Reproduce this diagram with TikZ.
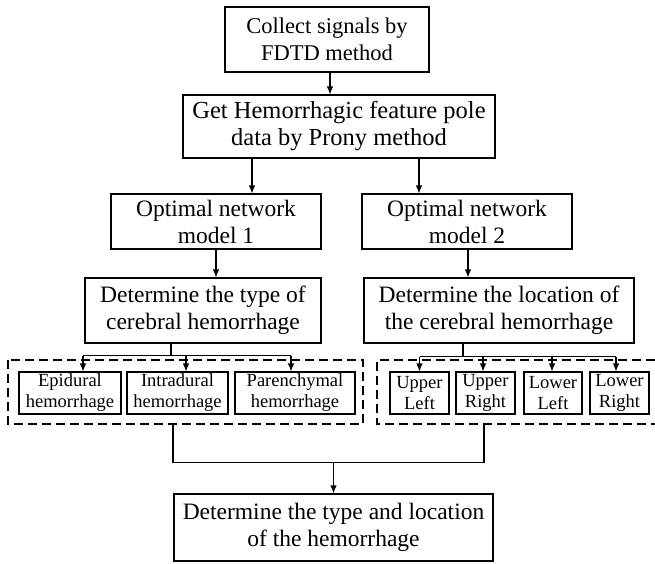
\documentclass[tikz,border=0pt]{standalone}
\usepackage{fontspec}
\setmainfont{Liberation Serif}
\usetikzlibrary{arrows.meta}
\begin{document}
\begin{tikzpicture}[x=1pt,y=-1pt,
  line width=1.1pt,
  bigbox/.style={draw, rectangle, inner sep=0pt, align=center,
    font=\fontsize{23.5}{27}\selectfont},
  smallbox/.style={draw, rectangle, inner sep=0pt, align=center,
    font=\fontsize{18.5}{21}\selectfont, minimum height=42pt},
  groupbox/.style={rectangle, inner sep=0pt, outer sep=0pt},
  groupline/.style={line width=1.2pt, dash pattern=on 9pt off 5pt},
  arr/.style={-{Latex[length=8pt,width=6.5pt]}},
]
\useasboundingbox (0,0) rectangle (655,563);

% main chain
\node[bigbox, minimum width=204pt, minimum height=65pt,
  font=\fontsize{22.5}{27}\selectfont] (collect) at (327,39.5)
  {Collect signals by\\FDTD method};
\node[bigbox, minimum width=312pt, minimum height=63pt,
  font=\fontsize{24.5}{27}\selectfont] (prony) at (339,126.5)
  {Get Hemorrhagic feature pole\\data by Prony method};
\node[bigbox, minimum width=210pt, minimum height=55pt] (model1) at (216,221.5)
  {Optimal network\\model 1};
\node[bigbox, minimum width=210pt, minimum height=55pt] (model2) at (467,221.5)
  {Optimal network\\model 2};
\node[bigbox, minimum width=236pt, minimum height=65pt] (type) at (203,310.5)
  {Determine the type of\\cerebral hemorrhage};
\node[bigbox, minimum width=270pt, minimum height=65pt] (loc) at (499,310.5)
  {Determine the location of\\the cerebral hemorrhage};

% hemorrhage types
\node[groupbox, minimum width=355pt, minimum height=64pt] (grpL) at (185.5,392) {};
\draw[groupline] (grpL.north west) rectangle (grpL.south east);
\node[smallbox, minimum width=102pt] (epi) at (70,393) {Epidural\\hemorrhage};
\node[smallbox, minimum width=101pt] (intra) at (177.5,393) {Intradural\\hemorrhage};
\node[smallbox, minimum width=120pt] (paren) at (295,393) {Parenchymal\\hemorrhage};

% hemorrhage locations (group frame runs off the right edge)
\node[groupbox, minimum width=278pt, minimum height=64pt] (grpR) at (516,392) {};
\draw[groupline] (grpR.north east) -- (grpR.north west)
  -- (grpR.south west) -- (grpR.south east);
\node[smallbox, minimum width=59pt] (ul) at (419.5,393) {Upper\\Left};
\node[smallbox, minimum width=59pt] (ur) at (485.5,393) {Upper\\Right};
\node[smallbox, minimum width=58pt] (ll) at (553,393) {Lower\\Left};
\node[smallbox, minimum width=59pt] (lr) at (619.5,393) {Lower\\Right};

% result
\node[bigbox, minimum width=319pt, minimum height=67pt] (final) at (333.5,527.5)
  {Determine the type and location\\of the hemorrhage};

% connectors
\draw[arr] ([xshift=3pt]collect.south) -- ([xshift=3pt]collect.south |- prony.north);
\draw[arr] ([xshift=36pt]model1.north |- prony.south) -- ([xshift=36pt]model1.north);
\draw[arr] ([xshift=-48pt]model2.north |- prony.south) -- ([xshift=-48pt]model2.north);
\draw[arr] (model1.south) -- (model1.south |- type.north);
\draw[arr] ([xshift=1pt]model2.south) -- ([xshift=1pt]model2.south |- loc.north);

% split to the types
\coordinate (tj) at ([xshift=-32pt,yshift=-12pt]type.south);
\draw ([xshift=-32pt]type.south) -- (tj);
\draw ([xshift=13pt]epi.north |- tj) -- ([xshift=-4pt]paren.north |- tj);
\draw[arr] ([xshift=13pt]epi.north |- tj) -- ([xshift=13pt]epi.north);
\draw[arr] ([xshift=8.5pt]intra.north |- tj) -- ([xshift=8.5pt]intra.north);
\draw[arr] ([xshift=-4pt]paren.north |- tj) -- ([xshift=-4pt]paren.north);

% split to the locations
\coordinate (lj) at ([xshift=-36pt,yshift=-13pt]loc.south);
\draw ([xshift=-36pt]loc.south) -- (lj);
\draw (ul.north |- lj) -- ([xshift=-3.5pt]lr.north |- lj);
\draw[arr] (ul.north |- lj) -- (ul.north);
\draw[arr] ([xshift=-2.5pt]ur.north |- lj) -- ([xshift=-2.5pt]ur.north);
\draw[arr] ([xshift=-1pt]ll.north |- lj) -- ([xshift=-1pt]ll.north);
\draw[arr] ([xshift=-3.5pt]lr.north |- lj) -- ([xshift=-3.5pt]lr.north);

% merge into the result
\coordinate (mj) at ([yshift=31pt]final.north);
\draw ([xshift=-12.5pt]grpL.south) |- (mj) -| ([xshift=-32pt]grpR.south);
\draw[arr] (mj) -- (final.north);
\end{tikzpicture}
\end{document}
